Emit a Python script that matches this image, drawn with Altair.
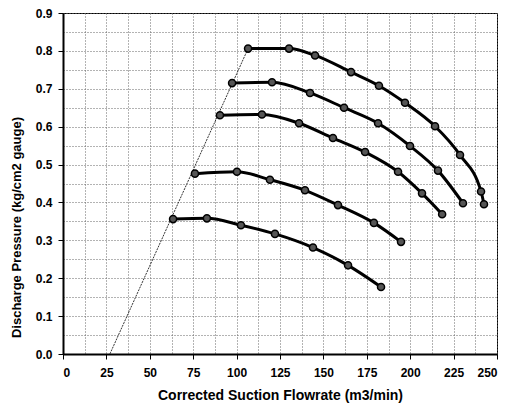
import altair as alt
import pandas as pd

c1_x = [106.6, 130.2, 145.2, 165.9, 182.0, 197.0, 214.3, 228.7, 240.8, 242.5]
c1_y = [0.806, 0.806, 0.788, 0.744, 0.708, 0.663, 0.601, 0.525, 0.429, 0.395]
c2_x = [97.4, 120.4, 142.3, 161.9, 181.5, 199.9, 216.0, 230.4]
c2_y = [0.715, 0.717, 0.689, 0.650, 0.609, 0.549, 0.484, 0.398]
c3_x = [90.4, 114.6, 136.0, 155.5, 174.0, 193.0, 206.8, 218.4]
c3_y = [0.630, 0.632, 0.609, 0.570, 0.533, 0.481, 0.424, 0.369]
c4_x = [76.0, 100.2, 119.2, 139.4, 158.4, 179.1, 194.7]
c4_y = [0.476, 0.481, 0.460, 0.432, 0.393, 0.346, 0.296]
c5_x = [63.4, 82.9, 102.5, 122.1, 144.0, 164.2, 183.2]
c5_y = [0.356, 0.358, 0.340, 0.317, 0.281, 0.234, 0.177]
surge_x = [27.0, 106.6]
surge_y = [0.0, 0.806]

x_ticks = [i * 12.5 for i in range(21)]
y_ticks = [round(i * 0.05, 2) for i in range(19)]

rows = []
for name, xs, ys in [("c1", c1_x, c1_y), ("c2", c2_x, c2_y), ("c3", c3_x, c3_y),
                     ("c4", c4_x, c4_y), ("c5", c5_x, c5_y)]:
    for xv, yv in zip(xs, ys):
        rows.append({"curve": name, "x": xv, "y": yv})
df = pd.DataFrame(rows)
surge = pd.DataFrame({"x": surge_x, "y": surge_y})

xscale = alt.Scale(domain=[0, 250], nice=False, zero=False)
yscale = alt.Scale(domain=[0, 0.9], nice=False, zero=False)

xaxis = alt.Axis(
    values=x_ticks, title="Corrected Suction Flowrate (m3/min)", format=".0f",
    labelExpr="datum.value % 25 === 0 ? datum.label : ''",
    labelOverlap=False,
    labelFont="Liberation Sans", labelFontWeight="bold", labelFontSize=12, labelColor="#000",
    titleFont="Liberation Sans", titleFontWeight="bold", titleFontSize=14, titleColor="#000",
    titlePadding=10, labelPadding=8,
    grid=True, gridColor="#666", gridDash=[1, 2], gridWidth=1,
    domainColor="#000", domainWidth=2,
    tickColor="#000", tickSize=5,
    tickOpacity=alt.ExprRef("datum.value % 25 === 0 ? 1 : 0"),
)
yaxis = alt.Axis(
    values=y_ticks, title="Discharge Pressure (kg/cm2 gauge)", format=".1f",
    labelExpr="round(datum.value*100) % 10 === 0 ? datum.label : ''",
    labelOverlap=False,
    labelFont="Liberation Sans", labelFontWeight="bold", labelFontSize=12, labelColor="#000",
    titleFont="Liberation Sans", titleFontWeight="bold", titleFontSize=13, titleColor="#000",
    titleY=214, titleX=-40,
    labelPadding=6,
    grid=True, gridColor="#666", gridDash=[1, 2], gridWidth=1,
    domainColor="#000", domainWidth=2,
    tickColor="#000", tickSize=5,
    tickOpacity=alt.ExprRef("round(datum.value*100) % 10 === 0 ? 1 : 0"),
)

X = alt.X("x:Q", scale=xscale, axis=xaxis)
Y = alt.Y("y:Q", scale=yscale, axis=yaxis)

surge_line = alt.Chart(surge).mark_line(color="#333", strokeWidth=1, strokeDash=[2, 1]).encode(
    x=X, y=Y,
)

lines = alt.Chart(df).mark_line(color="#000", strokeWidth=3, interpolate="monotone").encode(
    x=X, y=Y, detail="curve:N",
)

points = alt.Chart(df).mark_point(shape="circle", filled=True, size=50, color="#555",
                                  stroke="#000", strokeWidth=1.5, opacity=1).encode(
    x=X, y=Y,
)

chart = alt.layer(surge_line, lines, points).properties(
    width=434, height=341,
    autosize=alt.AutoSizeParams(type="none"),
    padding={"left": 55, "top": 5, "right": 10, "bottom": 52},
    background="#ffffff",
).configure_view(stroke="#000", strokeWidth=1)

chart.save("out.html", embed_options={"renderer": "svg", "actions": False})
